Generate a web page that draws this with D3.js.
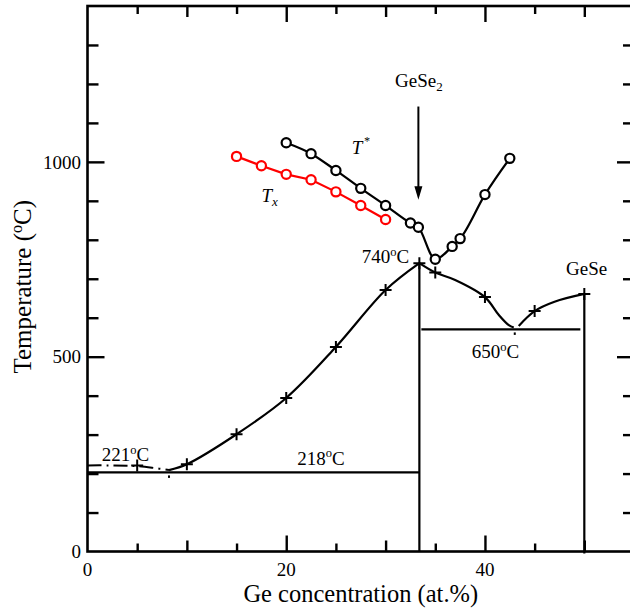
<!DOCTYPE html>
<html><head><meta charset="utf-8">
<script src="https://cdn.jsdelivr.net/npm/d3@7"></script>
<style>
html,body{margin:0;padding:0;background:#fff;}
svg{display:block;}
</style></head>
<body>
<svg id="chart" width="630" height="608" font-family="Liberation Serif, Times New Roman, serif"></svg>
<script>
// ---- data ----
const txConc = [15, 17.5, 20, 22.5, 25, 27.5, 30];
const txTemp = [1014, 990, 968, 954, 923, 888, 852];
const tStarConc = [20, 22.5, 25, 27.5, 30, 32.5, 33.3, 35, 36.7, 37.5, 40, 42.5];
const tStarTemp = [1049, 1021, 978, 932, 888, 843, 832, 750, 783, 803, 916, 1009];
const liqConc = [5, 10, 15, 20, 25, 30, 33.4, 35, 40, 45, 50];
const liqTemp = [221, 224, 301, 394, 525, 671, 740, 716, 653, 617, 661];
const dashConc = [0, 2, 4, 5, 6.5, 8.2];
const dashTemp = [221, 221, 220, 219, 215, 209];
const leftConc = [8.2, 10, 15, 20, 25, 30, 33.4];
const leftTemp = [209, 224, 301, 394, 525, 671, 740];
const midConc = [33.4, 35, 37, 40, 41.4, 42.4, 42.9];
const midTemp = [740, 716, 697, 653, 607, 581, 575];
const rightConc = [43.4, 45, 47, 50];
const rightTemp = [579, 617, 641, 661];
const eutTemp = [203, 570];
const eutFrom = [0, 33.6];
const eutTo = [33.4, 49.6];
const eutConc = [8.2, 43];
const compConc = [33.4, 50];
const compTemp = [740, 661];
const xTickLabels = [0, 20, 40];
const yTickLabels = [0, 500, 1000];

// ---- layout ----
const svg = d3.select("#chart");
const x = d3.scaleLinear().domain([0, 55]).range([87.5, 634]);
const y = d3.scaleLinear().domain([0, 1400]).range([551.5, 6]);
const black = "#000", red = "#ff0000";
const FS = 19;

// frame
svg.append("rect").attr("x", x(0)).attr("y", y(1400))
  .attr("width", x(55) - x(0)).attr("height", y(0) - y(1400))
  .attr("fill", "none").attr("stroke", black).attr("stroke-width", 2.6);

function tickAxis(axisFn, scale, vals, size, transform) {
  const g = svg.append("g").attr("transform", transform)
    .call(axisFn(scale).tickValues(vals).tickSizeInner(size).tickSizeOuter(0).tickFormat(""));
  g.select(".domain").remove();
  g.selectAll(".tick line").attr("stroke", black).attr("stroke-width", 2.4);
  return g;
}
const x5 = d3.range(5, 55, 5).filter(v => v % 10 !== 0);
const x10 = d3.range(10, 55, 10).filter(v => v % 20 !== 0);
const x20 = [20, 40];
[[x5, 8], [x10, 11], [x20, 16]].forEach(([vals, s]) => {
  tickAxis(d3.axisBottom, x, vals, -s, `translate(0,${y(0)})`);
  tickAxis(d3.axisTop, x, vals, -s, `translate(0,${y(1400)})`);
});
const y100 = d3.range(100, 1400, 100).filter(v => v % 500 !== 0);
const y500 = [500, 1000];
[[y100, 11], [y500, 17]].forEach(([vals, s]) => {
  tickAxis(d3.axisLeft, y, vals, -s, `translate(${x(0)},0)`);
  tickAxis(d3.axisRight, y, vals, -s, `translate(${x(55)},0)`);
});

// tick labels
svg.append("g").selectAll("text").data(xTickLabels).join("text")
  .attr("x", d => x(d)).attr("y", 575.5).attr("text-anchor", "middle")
  .attr("font-size", FS).text(d => d);
svg.append("g").selectAll("text").data(yTickLabels).join("text")
  .attr("x", 81).attr("y", d => y(d)).attr("dy", "0.35em").attr("text-anchor", "end")
  .attr("font-size", FS).text(d => d);

// axis titles
svg.append("text").attr("x", (x(0) + x(55)) / 2).attr("y", 602)
  .attr("text-anchor", "middle").attr("font-size", 24.5).text("Ge concentration (at.%)");
const yt = svg.append("text").attr("transform", `translate(31,${(y(0) + y(1400)) / 2 + 8}) rotate(-90)`)
  .attr("text-anchor", "middle").attr("font-size", 25);
yt.append("tspan").text("Temperature (");
yt.append("tspan").attr("font-size", 16).attr("dy", -9).text("o");
yt.append("tspan").attr("dy", 9).text("C)");

// horizontal eutectic lines
svg.append("g").selectAll("line").data(eutTemp).join("line")
  .attr("x1", (d, i) => x(eutFrom[i])).attr("x2", (d, i) => x(eutTo[i]))
  .attr("y1", d => y(d)).attr("y2", d => y(d))
  .attr("stroke", black).attr("stroke-width", 2.2);
// eutectic composition marks
svg.append("g").selectAll("line").data(eutConc).join("line")
  .attr("x1", d => x(d)).attr("x2", d => x(d))
  .attr("y1", (d, i) => y(eutTemp[i]) + 3).attr("y2", (d, i) => y(eutTemp[i]) + 5.5)
  .attr("stroke", black).attr("stroke-width", 2);
// compound verticals
svg.append("g").selectAll("line").data(compConc).join("line")
  .attr("x1", d => x(d)).attr("x2", d => x(d))
  .attr("y1", (d, i) => y(compTemp[i])).attr("y2", (d, i) => y(0) + (i === 1 ? 2 : 0))
  .attr("stroke", black).attr("stroke-width", 2.2);

// liquidus curves
const curveLine = d3.line().x(d => x(d[0])).y(d => y(d[1])).curve(d3.curveCatmullRom.alpha(0.5));
const zipPts = (a, b) => a.map((v, i) => [v, b[i]]);
svg.append("path").attr("d", curveLine(zipPts(dashConc, dashTemp)))
  .attr("fill", "none").attr("stroke", black).attr("stroke-width", 2)
  .attr("stroke-dasharray", "14,5,2,5");
[[leftConc, leftTemp], [midConc, midTemp], [rightConc, rightTemp]].forEach(([c, t]) => {
  svg.append("path").attr("d", curveLine(zipPts(c, t)))
    .attr("fill", "none").attr("stroke", black).attr("stroke-width", 2.2);
});
// plus markers
svg.append("g").selectAll("path").data(liqConc).join("path")
  .attr("d", (d, i) => {
    const cx = x(d), cy = y(liqTemp[i]), s = 6;
    return `M${cx - s},${cy}H${cx + s}M${cx},${cy - s}V${cy + s}`;
  })
  .attr("stroke", black).attr("stroke-width", 2);

// T* and Tx series
const straight = d3.line().x(d => x(d[0])).y(d => y(d[1]));
const smooth = d3.line().x(d => x(d[0])).y(d => y(d[1])).curve(d3.curveMonotoneX);
svg.append("path").attr("d", smooth(zipPts(tStarConc, tStarTemp)))
  .attr("fill", "none").attr("stroke", black).attr("stroke-width", 2.2);
svg.append("g").selectAll("circle").data(tStarConc).join("circle")
  .attr("cx", d => x(d)).attr("cy", (d, i) => y(tStarTemp[i])).attr("r", 4.6)
  .attr("fill", "#fff").attr("stroke", black).attr("stroke-width", 2.2);
svg.append("path").attr("d", straight(zipPts(txConc, txTemp)))
  .attr("fill", "none").attr("stroke", red).attr("stroke-width", 2.2);
svg.append("g").selectAll("circle").data(txConc).join("circle")
  .attr("cx", d => x(d)).attr("cy", (d, i) => y(txTemp[i])).attr("r", 4.6)
  .attr("fill", "#fff").attr("stroke", red).attr("stroke-width", 2.2);

// arrow
const ax = x(33.3);
svg.append("line").attr("x1", ax).attr("x2", ax).attr("y1", y(1142)).attr("y2", y(935))
  .attr("stroke", black).attr("stroke-width", 2);
svg.append("path").attr("d", `M${ax - 4},${y(935) - 1}L${ax + 4},${y(935) - 1}L${ax},${y(903)}Z`)
  .attr("fill", black);

// annotations
function degLabel(cx, T, val) {
  const t = svg.append("text").attr("x", x(cx)).attr("y", y(T)).attr("font-size", FS);
  t.append("tspan").text(val);
  t.append("tspan").attr("font-size", 12.5).attr("dy", -7.5).text("o");
  t.append("tspan").attr("dy", 7.5).text("C");
}
degLabel(1.43, 231, "221");
degLabel(21.1, 222, "218");
degLabel(27.6, 740, "740");
degLabel(38.67, 496, "650");
svg.append("text").attr("x", x(48.16)).attr("y", y(710)).attr("font-size", FS).text("GeSe");
const g2 = svg.append("text").attr("x", x(30.95)).attr("y", y(1192)).attr("font-size", FS);
g2.append("tspan").text("GeSe");
g2.append("tspan").attr("font-size", 13).attr("dy", 4).text("2");
const ts = svg.append("text").attr("x", x(26.6)).attr("y", y(1020)).attr("font-size", FS).attr("font-style", "italic");
ts.append("tspan").text("T");
ts.append("tspan").attr("font-size", 12).attr("dy", -9).attr("dx", 1).text("*");
const tx = svg.append("text").attr("x", x(17.5)).attr("y", y(898)).attr("font-size", FS).attr("font-style", "italic");
tx.append("tspan").text("T");
tx.append("tspan").attr("font-size", 13).attr("dy", 4).text("x");
</script>
</body></html>
